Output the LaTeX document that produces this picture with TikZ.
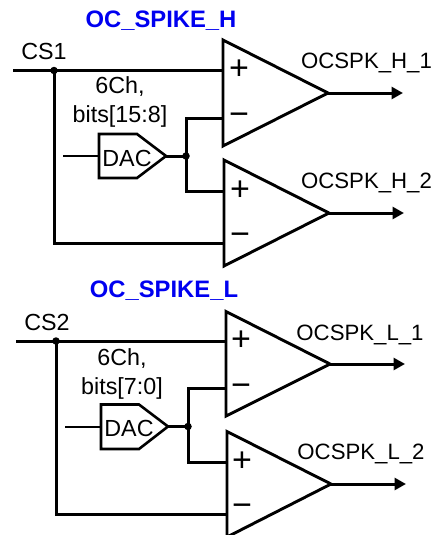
\documentclass[tikz,border=0pt]{standalone}
\usepackage{fontspec}
\setmainfont{Liberation Sans}
\usetikzlibrary{arrows.meta}
\tikzset{
  wire/.style={line width=3pt,line join=miter},
  outw/.style={wire,-{Triangle[length=11.5pt,width=12pt]}},
  thinw/.style={line width=2pt},
  comp/.style={line width=2.9pt,line join=miter},
  dacbox/.style={line width=2.6pt,line join=miter},
  jdot/.style={circle,fill=black,inner sep=0pt,minimum size=7.5pt},
  lab/.style={inner sep=0pt,font=\fontsize{22.2}{22}\selectfont},
  inlab/.style={inner sep=0pt,font=\fontsize{23.3}{23}\selectfont},
  ttl/.style={inner sep=0pt,text=titleblue,font=\fontsize{23.8}{24}\selectfont\bfseries},
  sign/.style={inner sep=0pt,font=\fontsize{34}{34}\selectfont},
}
\definecolor{titleblue}{RGB}{0,0,240}
\begin{document}
\begin{tikzpicture}[x=1pt,y=-1pt]
\useasboundingbox (0,0) rectangle (435,535);
% ---------- upper block
\node[ttl] (t1) at (161,21) {OC\_SPIKE\_H};
\coordinate (a1t) at (223,40); \coordinate (a1b) at (223,146); \coordinate (a1o) at (328,93);
\coordinate (a2t) at (224,160); \coordinate (a2b) at (224,266); \coordinate (a2o) at (329,213);
\coordinate (a1p) at (223,70.5); \coordinate (a1m) at (223,118);
\coordinate (a2p) at (224,191); \coordinate (a2m) at (224,243);
\coordinate (cs1in) at (13,70.5);
\node[jdot] (j1) at (54,70.5) {};
\node[jdot] (j2) at (186,156) {};
\coordinate (d1a) at (99,134); \coordinate (d1b) at (137,134); \coordinate (d1o) at (166,156);
\coordinate (d1c) at (137,178); \coordinate (d1d) at (99,178); \coordinate (d1i) at (99,156);
\coordinate (d1s) at (63,156);
\coordinate (o1) at (403,93); \coordinate (o2) at (404,213);
\draw[comp] (a1t) -- (a1o) -- (a1b) -- cycle;
\draw[comp] (a2t) -- (a2o) -- (a2b) -- cycle;
\draw[dacbox] (d1a) -- (d1b) -- (d1o) -- (d1c) -- (d1d) -- cycle;
\draw[wire] (cs1in) -- (a1p);
\draw[wire] (j1.center) -- (j1.center |- a2m) -- (a2m);
\draw[wire] (d1o) -- (j2.center);
\draw[wire] (a1m) -| (j2.center) |- (a2p);
\draw[thinw] (d1s) -- (d1i);
\draw[outw] (a1o) -- (o1);
\draw[outw] (a2o) -- (o2);
\node[sign] (p1) at (239,70) {+};
\node[sign] (m1) at (239,119) {−};
\node[sign] (p2) at (240,191) {+};
\node[sign] (m2) at (240,239) {−};
\node[inlab] (cs1) at (44,51) {CS1};
\node[inlab] (ch1) at (120,87) {6Ch,};
\node[inlab] (b1) at (120,116) {bits[15:8]};
\node[inlab] (dac1) at (127,158) {DAC};
\node[lab] (n1) at (366.5,63) {OCSPK\_H\_1};
\node[lab] (n2) at (366.5,183) {OCSPK\_H\_2};
% ---------- lower block
\node[ttl] (t2) at (164,291) {OC\_SPIKE\_L};
\coordinate (b1t) at (226,311.5); \coordinate (b1b) at (226,416); \coordinate (b1o) at (330,364);
\coordinate (b2t) at (227,431.5); \coordinate (b2b) at (227,537); \coordinate (b2o) at (331,484);
\coordinate (b1p) at (226,341); \coordinate (b1m) at (226,388.5);
\coordinate (b2p) at (226,462); \coordinate (b2m) at (226,514);
\coordinate (cs2in) at (16,341);
\node[jdot] (j3) at (56,341) {};
\node[jdot] (j4) at (188,426.5) {};
\coordinate (d2a) at (101,404.5); \coordinate (d2b) at (139,404.5); \coordinate (d2o) at (168,426.5);
\coordinate (d2c) at (139,449); \coordinate (d2d) at (101,449); \coordinate (d2i) at (101,426.5);
\coordinate (d2s) at (65,426.5);
\coordinate (o3) at (405,364); \coordinate (o4) at (406,484);
\draw[comp] (b1t) -- (b1o) -- (b1b) -- cycle;
\draw[comp] (b2t) -- (b2o) -- (b2b) -- cycle;
\draw[dacbox] (d2a) -- (d2b) -- (d2o) -- (d2c) -- (d2d) -- cycle;
\draw[wire] (cs2in) -- (b1p);
\draw[wire] (j3.center) -- (j3.center |- b2m) -- (b2m);
\draw[wire] (d2o) -- (j4.center);
\draw[wire] (b1m) -| (j4.center) |- (b2p);
\draw[thinw] (d2s) -- (d2i);
\draw[outw] (b1o) -- (o3);
\draw[outw] (b2o) -- (o4);
\node[sign] (p3) at (241,341) {+};
\node[sign] (m3) at (241,390) {−};
\node[sign] (p4) at (242,462) {+};
\node[sign] (m4) at (242,510) {−};
\node[inlab] (cs2) at (47,322) {CS2};
\node[inlab] (ch2) at (122,359) {6Ch,};
\node[inlab] (b2) at (122,388) {bits[7:0]};
\node[inlab] (dac2) at (129,428) {DAC};
\node[lab] (n3) at (360,335) {OCSPK\_L\_1};
\node[lab] (n4) at (361,454) {OCSPK\_L\_2};
\end{tikzpicture}
\end{document}
